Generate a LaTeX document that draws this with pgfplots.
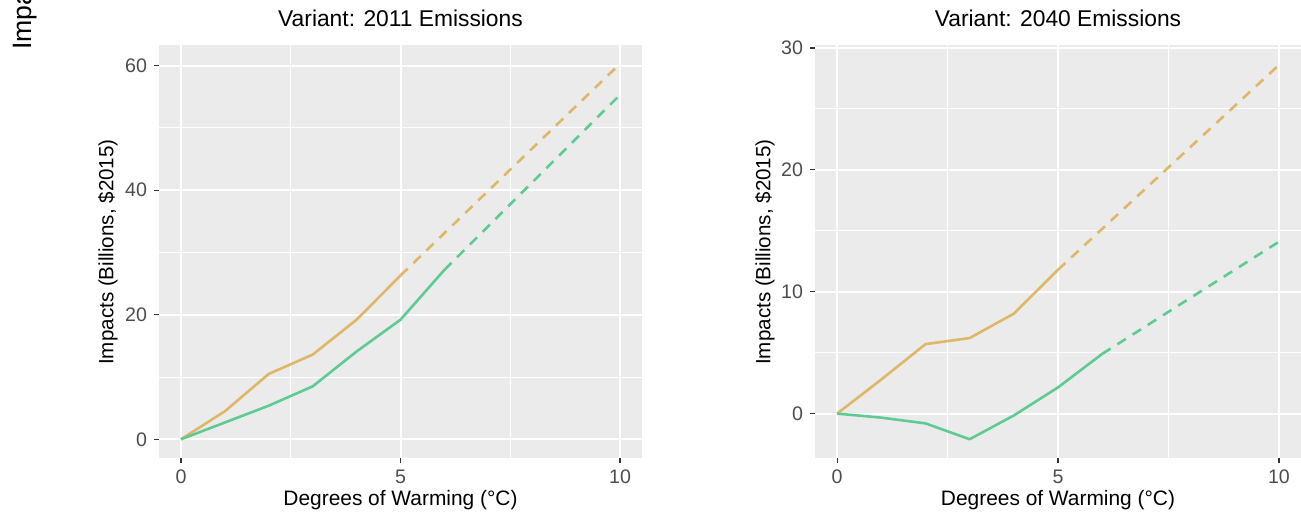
\documentclass[border=0pt]{standalone}
\usepackage{pgfplots}
\pgfplotsset{compat=1.18}
\usepackage{fontspec}
\setmainfont{Liberation Sans}
\definecolor{bgc}{HTML}{EBEBEB}
\definecolor{tickc}{HTML}{333333}
\definecolor{labc}{HTML}{4D4D4D}
\definecolor{orng}{RGB}{222,183,105}
\definecolor{grn}{RGB}{94,204,146}
\pgfplotsset{
  gg/.style={
    scale only axis,
    anchor=south west,
    height=206.5pt,
    xmin=-0.5, xmax=10.5,
    axis line style={draw=none},
    axis background/.style={fill=bgc},
    tick align=outside,
    major tick length=2.5pt,
    minor tick length=0pt,
    tick style={color=tickc, line width=0.6pt},
    xtick pos=bottom, ytick pos=left,
    xtick={0,5,10}, minor xtick={2.5,7.5},
    grid=both,
    major grid style={white, line width=1pt},
    minor grid style={white, line width=0.5pt},
    /pgf/number format/assume math mode=true,
    ticklabel style={font=\fontsize{9.8pt}{11pt}\selectfont, text=labc},
    clip=false,
  },
  sol/.style={line width=1.3pt, line join=round},
  dsh/.style={line width=1.3pt, dash pattern=on 5pt off 4pt},
}
\begin{document}
\begin{tikzpicture}
\begin{axis}[gg, at={(79.5pt,-229pt)}, width=241.5pt,
  ymin=-3.0, ymax=63.3, ytick={0,20,40,60}, minor ytick={10,30,50}]
\addplot[sol, orng] coordinates {(0,0) (1,4.5) (2,10.5) (3,13.6) (4,19.2) (5,26.3)};
\addplot[dsh, orng] coordinates {(5,26.3) (10,60.3)};
\addplot[sol, grn] coordinates {(0,0) (1,2.7) (2,5.4) (3,8.5) (4,14.1) (5,19.2) (6,27.2)};
\addplot[dsh, grn] coordinates {(6,27.2) (10,55.3)};
\end{axis}
\begin{axis}[gg, at={(407.5pt,-229pt)}, width=243pt,
  ymin=-3.64, ymax=30.24, ytick={0,10,20,30}, minor ytick={5,15,25}]
\addplot[sol, orng] coordinates {(0,0) (1,2.8) (2,5.7) (3,6.2) (4,8.2) (5,11.8)};
\addplot[dsh, orng] coordinates {(5,11.8) (10,28.6)};
\addplot[sol, grn] coordinates {(0,0) (1,-0.33) (2,-0.8) (3,-2.1) (4,-0.15) (5,2.15) (6,4.9)};
\addplot[dsh, grn] coordinates {(6,4.9) (10,14.1)};
\end{axis}
\node[font=\fontsize{11.4pt}{13pt}\selectfont] at (200.25pt,-9pt) {Variant: 2011 Emissions};
\node[font=\fontsize{11.4pt}{13pt}\selectfont] at (529pt,-9pt) {Variant: 2040 Emissions};
\node[font=\fontsize{10.45pt}{12pt}\selectfont] at (200.25pt,-250pt) {Degrees of Warming (°C)};
\node[font=\fontsize{10.45pt}{12pt}\selectfont] at (529pt,-250pt) {Degrees of Warming (°C)};
\node[font=\fontsize{10.3pt}{12pt}\selectfont, rotate=90] at (54pt,-126pt) {Impacts (Billions, \$2015)};
\node[font=\fontsize{10.3pt}{12pt}\selectfont, rotate=90] at (382.5pt,-126pt) {Impacts (Billions, \$2015)};
\node[font=\fontsize{13.3pt}{15pt}\selectfont, rotate=90, anchor=base west, inner sep=0pt] at (16pt,-25pt) {Impacts};
\pgfresetboundingbox
\useasboundingbox (0pt,0pt) rectangle (650.5pt,-259pt);
\end{tikzpicture}
\end{document}
